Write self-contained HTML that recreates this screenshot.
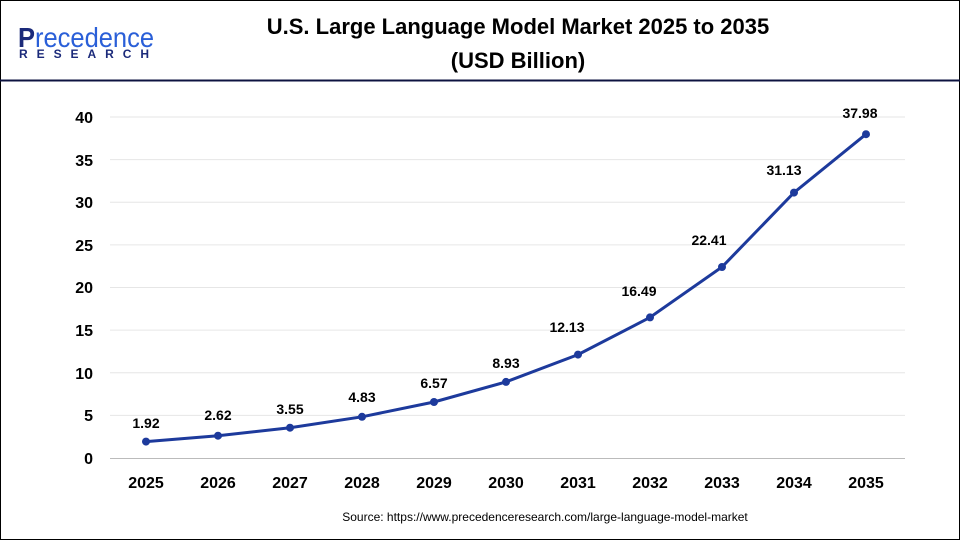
<!DOCTYPE html>
<html><head><meta charset="utf-8"><style>
body{margin:0;background:#fff}
svg{display:block;font-family:"Liberation Sans",Arial,sans-serif}
</style></head><body>
<svg width="960" height="540" viewBox="0 0 960 540">
<rect x="0.5" y="0.5" width="959" height="539" fill="#fff" stroke="#000" stroke-width="1"/>
<line x1="0" y1="80.5" x2="960" y2="80.5" stroke="#0d1340" stroke-width="2"/>
<text x="18" y="47" font-size="28" fill="#2a5fd8" textLength="136" lengthAdjust="spacingAndGlyphs"><tspan fill="#1b2a7a" font-weight="bold">P</tspan>recedence</text>
<text x="19" y="58" font-size="12" fill="#1b2a7a" font-weight="bold" textLength="130" lengthAdjust="spacing">RESEARCH</text>
<text x="518" y="34" font-size="22" font-weight="bold" text-anchor="middle" fill="#000">U.S. Large Language Model Market 2025 to 2035</text>
<text x="518" y="68" font-size="22" font-weight="bold" text-anchor="middle" fill="#000">(USD Billion)</text>
<g stroke="#e6e6e6" stroke-width="1">
<line x1="110" x2="905" y1="415.4" y2="415.4"/><line x1="110" x2="905" y1="372.8" y2="372.8"/>
<line x1="110" x2="905" y1="330.1" y2="330.1"/><line x1="110" x2="905" y1="287.5" y2="287.5"/>
<line x1="110" x2="905" y1="244.9" y2="244.9"/><line x1="110" x2="905" y1="202.2" y2="202.2"/>
<line x1="110" x2="905" y1="159.6" y2="159.6"/><line x1="110" x2="905" y1="117" y2="117"/>
</g>
<line x1="110" x2="905" y1="458.5" y2="458.5" stroke="#bbb"/>
<g font-size="16" font-weight="bold" text-anchor="end" fill="#000">
<text x="93" y="464">0</text><text x="93" y="421">5</text><text x="93" y="379">10</text>
<text x="93" y="336">15</text><text x="93" y="293">20</text><text x="93" y="251">25</text>
<text x="93" y="208">30</text><text x="93" y="166">35</text><text x="93" y="123">40</text>
</g>
<g font-size="16" font-weight="bold" text-anchor="middle" fill="#000">
<text x="146" y="488">2025</text><text x="218" y="488">2026</text><text x="290" y="488">2027</text>
<text x="362" y="488">2028</text><text x="434" y="488">2029</text><text x="506" y="488">2030</text>
<text x="578" y="488">2031</text><text x="650" y="488">2032</text><text x="722" y="488">2033</text>
<text x="794" y="488">2034</text><text x="866" y="488">2035</text>
</g>
<polyline fill="none" stroke="#1d3a9c" stroke-width="3" points="146,441.6 218,435.7 290,427.7 362,416.8 434,402 506,381.9 578,354.6 650,317.4 722,267 794,192.6 866,134.2"/>
<g fill="#1d3a9c">
<circle cx="146" cy="441.6" r="4"/><circle cx="218" cy="435.7" r="4"/><circle cx="290" cy="427.7" r="4"/>
<circle cx="362" cy="416.8" r="4"/><circle cx="434" cy="402" r="4"/><circle cx="506" cy="381.9" r="4"/>
<circle cx="578" cy="354.6" r="4"/><circle cx="650" cy="317.4" r="4"/><circle cx="722" cy="267" r="4"/>
<circle cx="794" cy="192.6" r="4"/><circle cx="866" cy="134.2" r="4"/>
</g>
<g font-size="14" font-weight="bold" text-anchor="middle" fill="#000">
<text x="146" y="428">1.92</text><text x="218" y="420">2.62</text><text x="290" y="414">3.55</text>
<text x="362" y="402">4.83</text><text x="434" y="388">6.57</text><text x="506" y="368">8.93</text>
<text x="567" y="332">12.13</text><text x="639" y="296">16.49</text><text x="709" y="245">22.41</text>
<text x="784" y="175">31.13</text><text x="860" y="118">37.98</text>
</g>
<text x="545" y="521" font-size="12" text-anchor="middle" fill="#000">Source: https://www.precedenceresearch.com/large-language-model-market</text>
</svg>
</body></html>
